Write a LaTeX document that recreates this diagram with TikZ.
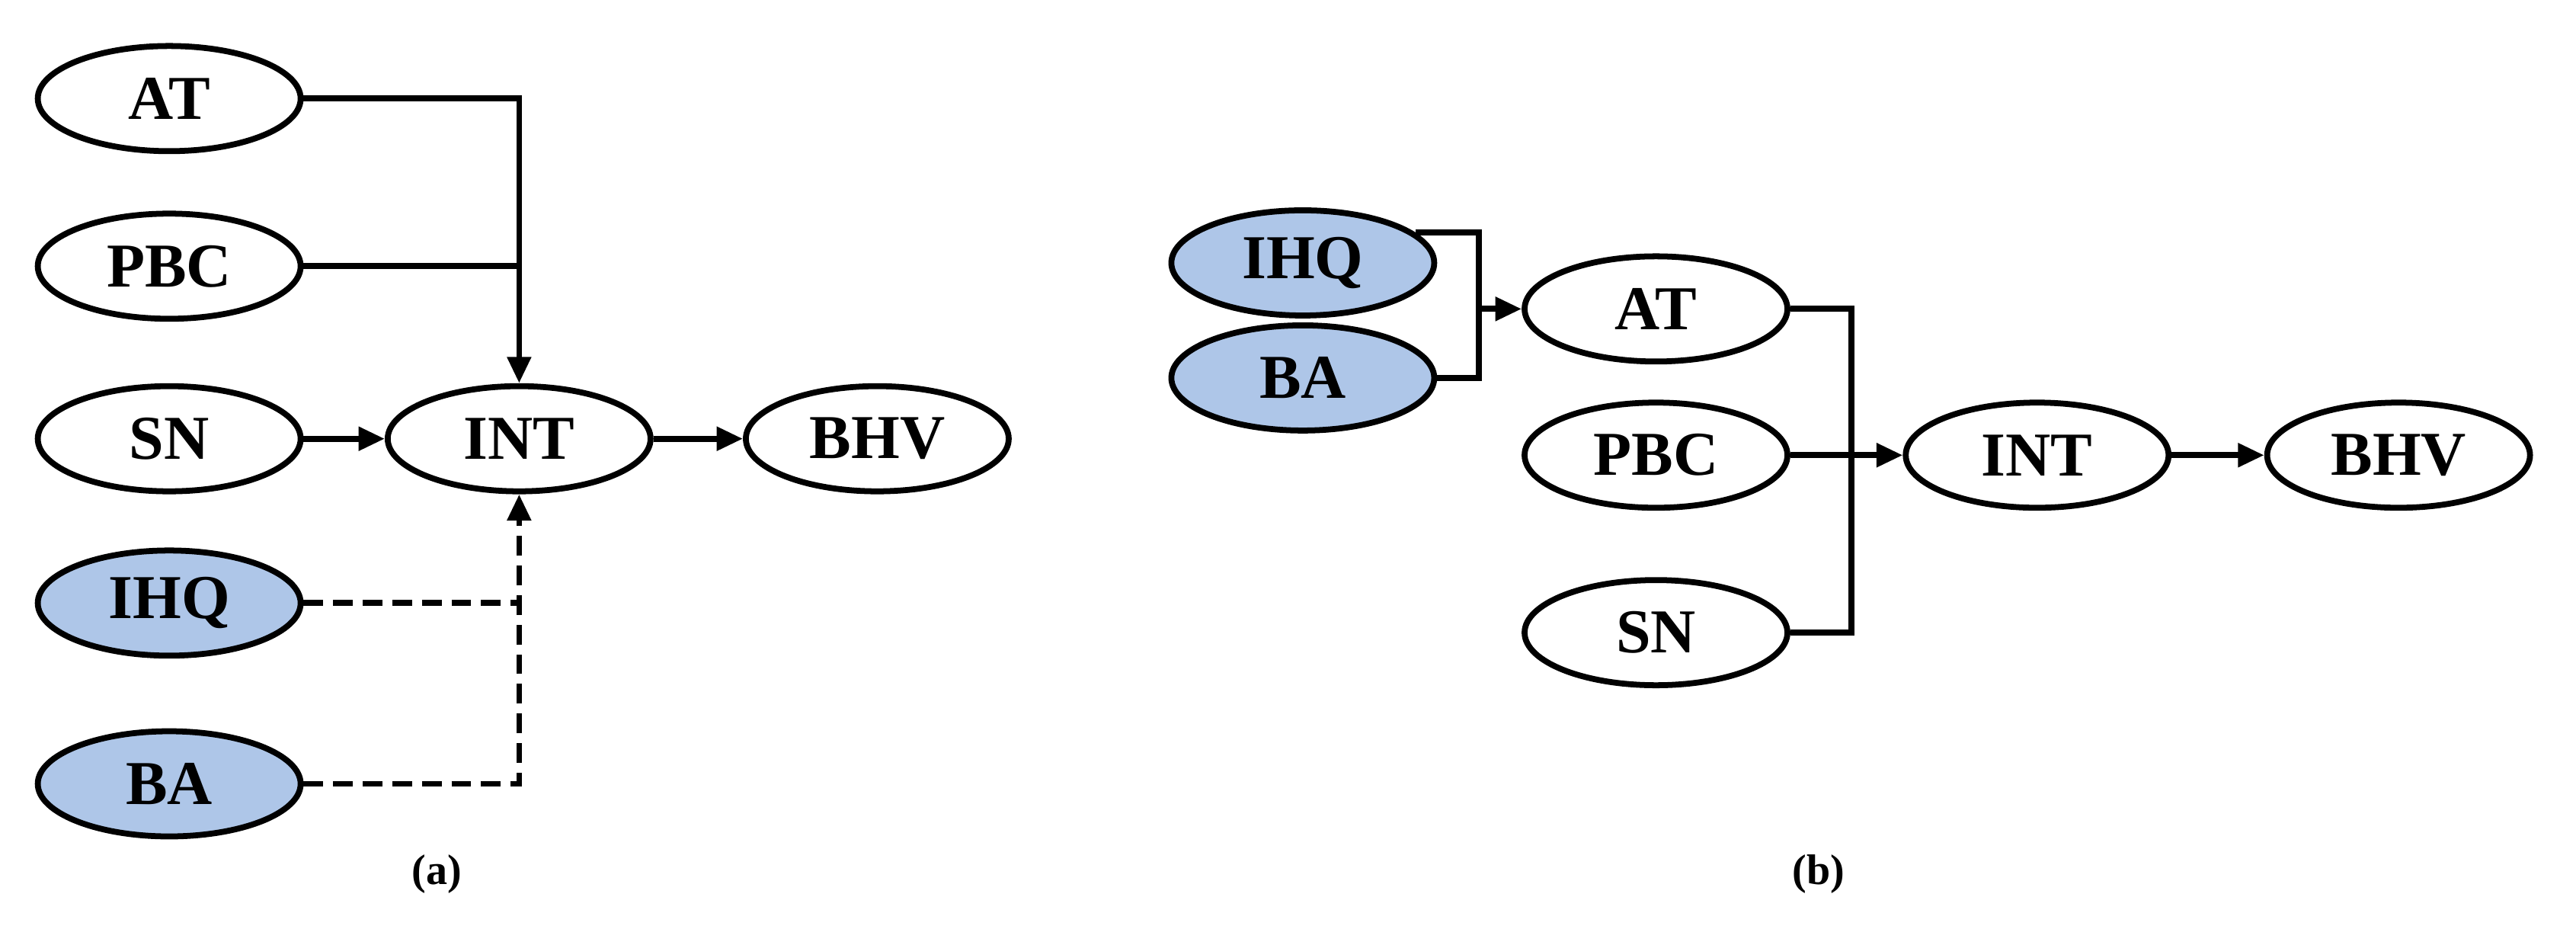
\documentclass[tikz,border=0pt]{standalone}
\usepackage{fontspec}
\setmainfont{Liberation Serif}
\usetikzlibrary{shapes.geometric,arrows.meta}
\definecolor{lb}{HTML}{AEC6E8}
\begin{document}
\begin{tikzpicture}[x=0.5pt,y=-0.5pt,
 el/.style={ellipse,draw,line width=1.8pt,minimum width=80pt,minimum height=32pt,inner sep=0pt,font=\fontsize{19}{20}\selectfont\bfseries},
 bl/.style={el,fill=lb},
 ln/.style={line width=1.8pt},
 ar/.style={ln,-{Triangle[length=8pt,width=7pt]}},
 dl/.style={dash pattern=on 6pt off 3pt}]
\useasboundingbox (0,0) rectangle (1568,565);
% (a)
\node[el] (at) at (103,60) {AT};
\node[el] (pbc) at (103,162) {PBC};
\node[el] (sn) at (103,267) {SN};
\node[bl] (ihq) at (103,367) {IHQ};
\node[bl] (ba) at (103,477) {BA};
\node[el] (int) at (316,267) {INT};
\node[el] (bhv) at (534,267) {BHV};
\coordinate (j1) at (316,162);
\coordinate (j2) at (316,367);
\draw[ar] (at.east) -| (int.north);
\draw[ln] (pbc.east) -- (j1);
\draw[ar] (sn) -- (int);
\draw[ar] (int) -- (bhv);
\draw[ln,dl] (ihq.east) -- (j2);
\draw[ar,dl] (ba.east) -| (int.south);
\node[font=\fontsize{13}{14}\selectfont\bfseries] (la) at (266,532) {(a)};
% (b)
\node[bl] (ihq2) at (793,160) {IHQ};
\node[bl] (ba2) at (793,230) {BA};
\node[el] (at2) at (1008,188) {AT};
\node[el] (pbc2) at (1008,277) {PBC};
\node[el] (sn2) at (1008,385) {SN};
\node[el] (int2) at (1240,277) {INT};
\node[el] (bhv2) at (1460,277) {BHV};
\coordinate (k1) at (900,145);
\coordinate (k2) at (900,188);
\draw[ln] (ihq2.15) -- (ihq2.15 -| k1) |- (ba2.east);
\draw[ar] (k2) -- (at2.west);
\draw[ln] (at2.east) -| (1127,385) -- (sn2.east);
\draw[ar] (pbc2.east) -- (int2.west);
\draw[ar] (int2) -- (bhv2);
\node[font=\fontsize{13}{14}\selectfont\bfseries] (lb) at (1107,532) {(b)};
\end{tikzpicture}
\end{document}
